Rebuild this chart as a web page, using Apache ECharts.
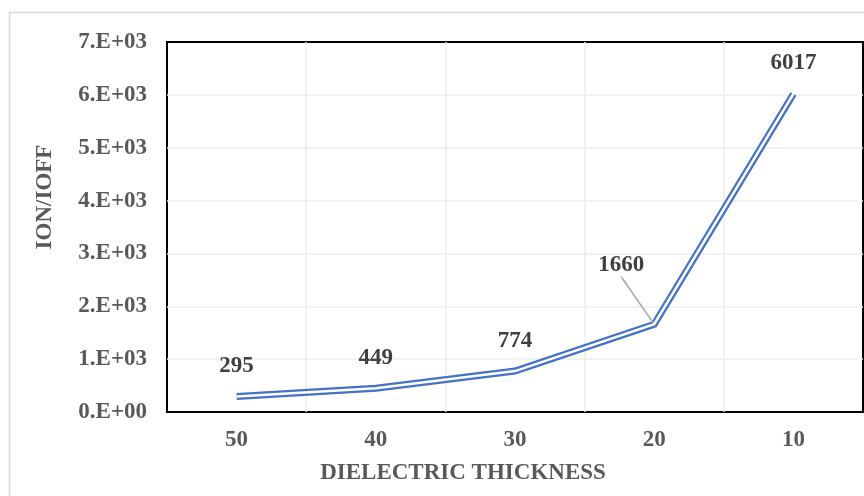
<!DOCTYPE html>
<html>
<head>
<meta charset="utf-8">
<script src="https://cdn.jsdelivr.net/npm/echarts@6/dist/echarts.min.js"></script>
<style>html,body{margin:0;padding:0;background:#fff}#c{width:864px;height:496px}</style>
</head>
<body>
<div id="c"></div>
<script>
const categories = ['50', '40', '30', '20', '10'];
const ionIoff = [295, 449, 774, 1660, 6017];
const yTickLabels = ['0.E+00', '1.E+03', '2.E+03', '3.E+03', '4.E+03', '5.E+03', '6.E+03', '7.E+03'];
const xTitle = 'DIELECTRIC THICKNESS';
const yTitle = 'ION/IOFF';

const FONT = 'Liberation Serif';
const chart = echarts.init(document.getElementById('c'), null, {renderer: 'canvas'});

const labelled = ionIoff.map((v, i) => {
  const d = {value: v};
  if (i === 3) d.labelLine = {show: true, lineStyle: {color: '#a6a6a6', width: 1.5}};
  return d;
});

chart.setOption({
  animation: false,
  backgroundColor: '#fff',
  grid: {left: 167, right: 1, top: 42, bottom: 84, show: true, borderColor: '#000', borderWidth: 2, backgroundColor: 'transparent'},
  xAxis: {
    type: 'category',
    data: categories,
    boundaryGap: true,
    axisLine: {show: false},
    axisTick: {show: false},
    axisLabel: {margin: 17, color: '#595959', fontFamily: FONT, fontWeight: 'bold', fontSize: 23},
    splitLine: {show: true, showMinLine: false, showMaxLine: false, lineStyle: {color: '#ececec', width: 1.5}}
  },
  yAxis: {
    type: 'value',
    min: 0, max: 7000, interval: 1000,
    axisLine: {show: false},
    axisTick: {show: false},
    axisLabel: {margin: 20, color: '#595959', fontFamily: FONT, fontWeight: 'bold', fontSize: 23,
      formatter: v => yTickLabels[Math.round(v / 1000)]},
    splitLine: {show: true, showMinLine: false, showMaxLine: false, lineStyle: {color: '#ececec', width: 1.5}}
  },
  graphic: [
    {type: 'rect', silent: true, z: -1, shape: {x: 9.5, y: 12.5, width: 1000, height: 600},
      style: {fill: null, stroke: '#d9d9d9', lineWidth: 1.5}},
    {type: 'text', x: 463, y: 473, style: {text: xTitle, align: 'center', verticalAlign: 'middle',
      font: 'bold 23px "Liberation Serif"', fill: '#595959'}},
    {type: 'text', x: 45, y: 197, rotation: Math.PI / 2, style: {text: yTitle, align: 'center', verticalAlign: 'middle',
      font: 'bold 23px "Liberation Serif"', fill: '#595959'}}
  ],
  series: [
    {
      type: 'line', data: labelled, symbol: 'circle', symbolSize: 1, showSymbol: true, z: 3,
      itemStyle: {color: 'rgba(0,0,0,0)'},
      lineStyle: {color: '#4472C4', width: 7, join: 'miter'},
      label: {show: true, position: 'top', distance: 18, lineHeight: 24, color: '#404040',
        fontFamily: FONT, fontWeight: 'bold', fontSize: 23},
      labelLine: {show: false},
      labelLayout: p => (p.dataIndex === 3 ? {dx: -33, dy: -29} : {})
    },
    {
      type: 'line', data: ionIoff, symbol: 'none', z: 4, silent: true,
      lineStyle: {color: '#ffffff', width: 2.5, join: 'miter'}
    }
  ]
});
</script>
</body>
</html>
